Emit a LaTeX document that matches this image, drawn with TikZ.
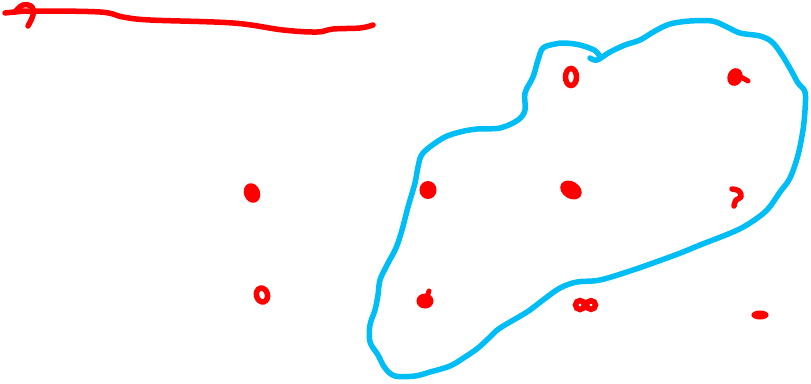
\documentclass[tikz,border=0pt]{standalone}
\begin{document}
\begin{tikzpicture}[x=1pt,y=-1pt,
  redink/.style={draw={rgb,255:red,255;green,0;blue,0},line width=5.5pt,line cap=round,line join=round},
  blueink/.style={draw={rgb,255:red,0;green,190;blue,245},line width=5.5pt,line cap=round,line join=round},
  reddot/.style={fill={rgb,255:red,255;green,0;blue,0},draw={rgb,255:red,255;green,0;blue,0},line width=2pt},
  redring/.style={draw={rgb,255:red,255;green,0;blue,0},line width=5.5pt}]
\useasboundingbox (0,0) rectangle (811,383);
% top red stroke with hook
\draw[redink] plot[smooth,tension=0.6] coordinates {(5,13) (15,12) (33,11) (100,12) (123,17) (150,20) (233,23) (283,30) (317,32) (333,29) (360,28) (373,25)};
\draw[redink] plot[smooth,tension=0.7] coordinates {(15,12) (23,5) (32,7) (33,15) (28,26)};
% blue outline
\draw[blueink] plot[smooth,tension=0.55] coordinates {
 (590,58) (597,60) (610,52) (625,45) (640,40) (655,31) (670,24) (690,21) (712,21) (725,26) (740,33) (760,36) (772,42) (782,55) (792,72) (798,83) (805,92) (805,110) (803,130) (798,155) (790,178) (780,192) (767,210) (750,223) (733,232) (700,245) (683,252) (667,258) (633,270) (600,280) (577,282) (560,288) (543,300) (527,312) (500,328) (490,337) (478,348) (465,357) (450,366) (430,372) (415,376) (395,376) (385,368) (378,355) (370,342) (370,325) (375,310) (378,295) (380,280) (387,265) (396,248) (402,230) (408,207) (415,183) (418,167) (423,153) (443,138) (460,132) (477,129) (500,128) (518,120) (525,110) (525,93) (533,77) (538,60) (543,48) (555,44) (565,43) (580,45) (594,50) (599,55)};
% red dots
\fill[reddot,rotate around={20:(252,193)}] (252,193) ellipse [x radius=7,y radius=9];
\draw[redring,rotate around={15:(262,295)}] (262,295) ellipse [x radius=5.5,y radius=7];
\draw[redring] (571,77) ellipse [x radius=5.5,y radius=8.5];
\fill[reddot,rotate around={-20:(735,77)}] (735,77) ellipse [x radius=6.5,y radius=8];
\draw[redink,line width=5pt] (739,76) -- (748,81);
\fill[reddot] (428,190) ellipse [x radius=7.5,y radius=8];
\fill[reddot,rotate around={-32:(571,190)}] (571,190) ellipse [x radius=10.5,y radius=7.5];
\draw[redink,line width=5.5pt] plot[smooth,tension=0.7] coordinates {(732,189) (739,191) (741,197) (736,200) (734,206)};
\fill[reddot] (425,301) ellipse [x radius=7.5,y radius=6.5];
\draw[redink,line width=5pt] (427,297) -- (429,291);
\draw[redring] (580,305) ellipse [x radius=4.5,y radius=4.5];
\draw[redring] (591,305) ellipse [x radius=4.5,y radius=4.3];
\fill[reddot] (760,315) ellipse [x radius=7.5,y radius=3.5];
\end{tikzpicture}
\end{document}
